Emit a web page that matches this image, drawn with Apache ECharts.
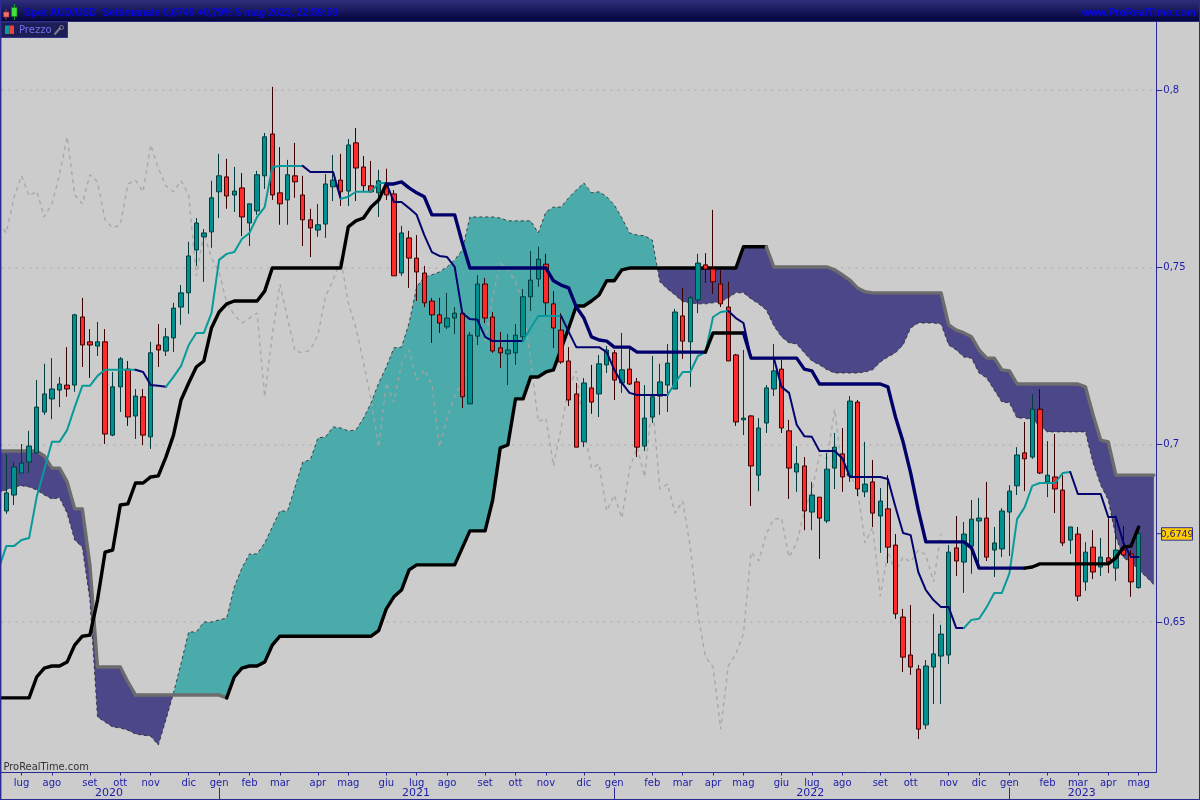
<!DOCTYPE html>
<html><head><meta charset="utf-8">
<style>html,body{margin:0;padding:0;background:#ccc}#c{width:1200px;height:800px}</style>
<script src="https://cdn.jsdelivr.net/npm/echarts@6/dist/echarts.min.js"></script>
</head><body><div id="c"></div><script>
const opens=[.6813,.6858,.6920,.6951,.6977,.7092,.7129,.7154,.7168,.7168,
.7360,.7290,.7278,.7290,.7027,.7163,.7213,.7081,.7135,.7022,
.7281,.7264,.7301,.7388,.7428,.7549,.7586,.7600,.7713,.7755,
.7704,.7724,.7625,.7659,.7758,.7876,.7710,.7690,.7758,.7704,
.7634,.7605,.7622,.7727,.7746,.7715,.7851,.7783,.7730,.7710,
.7730,.7707,.7484,.7583,.7526,.7484,.7405,.7366,.7332,.7357,
.7371,.7115,.7306,.7453,.7360,.7273,.7256,.7259,.7304,.7417,
.7467,.7509,.7397,.7323,.7236,.7143,.7008,.7160,.7143,.7225,
.7259,.7174,.7213,.7177,.6996,.7078,.7137,.7168,.7157,.7363,
.7290,.7408,.7507,.7495,.7453,.7388,.7253,.7070,.7081,.6914,
.7061,.7157,.7213,.7039,.6923,.6940,.6810,.6852,.6785,.6934,
.6974,.6912,.7120,.6867,.6895,.6799,.6819,.6717,.6514,.6407,
.6367,.6210,.6373,.6404,.6407,.6709,.6669,.6714,.6785,.6793,
.6703,.6706,.6810,.6884,.6977,.6965,.7100,.6895,.6909,.6872,
.6731,.6748,.6613,.6711,.6655,.6681,.6652,.6703,.6692,.6597];
const closes=[.6864,.6937,.6948,.6996,.7106,.7143,.7157,.7171,.7157,.7366,
.7281,.7281,.7290,.7030,.7163,.7242,.7078,.7137,.7027,.7259,
.7267,.7304,.7385,.7428,.7532,.7625,.7597,.7696,.7758,.7701,
.7715,.7642,.7679,.7761,.7868,.7704,.7679,.7761,.7741,.7634,
.7611,.7620,.7735,.7746,.7713,.7845,.7780,.7730,.7713,.7744,
.7704,.7476,.7597,.7526,.7487,.7400,.7366,.7343,.7357,.7371,
.7135,.7309,.7453,.7357,.7264,.7259,.7267,.7309,.7417,.7464,
.7523,.7400,.7329,.7233,.7126,.6993,.7174,.7120,.7228,.7267,
.7182,.7211,.7171,.6993,.7075,.7135,.7177,.7230,.7374,.7292,
.7414,.7512,.7495,.7459,.7397,.7236,.7064,.7075,.6940,.7047,
.7160,.7208,.7047,.6934,.6946,.6813,.6858,.6793,.6931,.6993,
.6909,.7123,.6875,.6889,.6807,.6841,.6711,.6523,.6401,.6373,
.6198,.6376,.6410,.6466,.6697,.6672,.6748,.6790,.6793,.6683,
.6723,.6813,.6869,.6971,.6960,.7100,.6920,.6914,.6875,.6723,
.6768,.6573,.6697,.6641,.6683,.6669,.6703,.6689,.6613,.6749];
const highs=[.6974,.6951,.7002,.7039,.7182,.7228,.7244,.7191,.7275,.7369,
.7414,.7326,.7346,.7326,.7205,.7247,.7236,.7157,.7157,.7290,
.7340,.7329,.7400,.7450,.7572,.7639,.7608,.7744,.7820,.7806,
.7783,.7766,.7679,.7772,.7879,.8009,.7839,.7803,.7851,.7758,
.7665,.7679,.7763,.7817,.7820,.7862,.7893,.7814,.7800,.7775,
.7778,.7718,.7617,.7603,.7591,.7504,.7414,.7414,.7428,.7388,
.7371,.7318,.7478,.7470,.7374,.7318,.7312,.7340,.7439,.7546,
.7558,.7538,.7433,.7371,.7275,.7174,.7188,.7225,.7253,.7278,
.7267,.7315,.7270,.7188,.7168,.7250,.7228,.7284,.7383,.7442,
.7419,.7538,.7540,.7662,.7493,.7459,.7256,.7267,.7084,.7075,
.7168,.7284,.7239,.7070,.6996,.6965,.6895,.6852,.6977,.7033,
.7047,.7137,.7126,.7008,.6957,.6878,.6914,.6748,.6537,.6548,
.6379,.6393,.6523,.6492,.6717,.6799,.6782,.6844,.6850,.6895,
.6768,.6821,.6886,.6993,.7064,.7143,.7157,.7010,.7030,.6914,
.6768,.6768,.6725,.6759,.6737,.6793,.6802,.6771,.6703,.6768];
const lows=[.6805,.6830,.6920,.6920,.6974,.7084,.7072,.7106,.7135,.7149,
.7219,.7188,.7250,.7002,.7024,.7092,.7053,.7016,.6999,.6988,
.7219,.7250,.7261,.7338,.7369,.7504,.7459,.7555,.7639,.7665,
.7656,.7588,.7560,.7648,.7721,.7690,.7620,.7620,.7696,.7560,
.7529,.7586,.7583,.7687,.7673,.7673,.7687,.7715,.7710,.7642,
.7690,.7476,.7476,.7442,.7405,.7388,.7287,.7315,.7326,.7312,
.7103,.7115,.7281,.7343,.7259,.7216,.7168,.7225,.7290,.7377,
.7445,.7360,.7273,.7228,.7109,.6993,.6993,.7087,.7078,.7202,
.7126,.7146,.7168,.6965,.6982,.7061,.7084,.7092,.7157,.7242,
.7163,.7371,.7456,.7425,.7388,.7236,.7053,.7027,.6827,.6869,
.7033,.7137,.7033,.6847,.6867,.6759,.6759,.6678,.6779,.6875,
.6867,.6895,.6855,.6852,.6768,.6695,.6666,.6509,.6359,.6351,
.6170,.6198,.6269,.6269,.6382,.6630,.6582,.6636,.6666,.6672,
.6627,.6683,.6686,.6858,.6869,.6960,.6917,.6852,.6807,.6714,
.6692,.6559,.6588,.6621,.6630,.6638,.6616,.6686,.6571,.6594];
const tenkan=[.6714,.6714,.6731,.6737,.6853,.6929,.7008,.7008,.7041,.7106,
.7166,.7166,.7194,.7211,.7211,.7211,.7211,.7211,.7205,.7168,
.7166,.7163,.7191,.7222,.7281,.7315,.7315,.7371,.7521,.7538,
.7543,.7580,.7597,.7642,.7670,.7783,.7786,.7786,.7786,.7786,
.7769,.7769,.7769,.7769,.7693,.7699,.7713,.7713,.7713,.7738,
.7738,.7684,.7684,.7667,.7648,.7591,.7543,.7532,.7529,.7501,
.7371,.7354,.7352,.7304,.7292,.7292,.7292,.7292,.7292,.7329,
.7363,.7363,.7363,.7363,.7318,.7275,.7275,.7275,.7275,.7261,
.7211,.7174,.7146,.7140,.7140,.7140,.7140,.7140,.7174,.7205,
.7205,.7250,.7261,.7360,.7374,.7377,.7357,.7343,.7244,.7244,
.7244,.7244,.7163,.7146,.7056,.7024,.7022,.6982,.6982,.6982,
.6962,.6909,.6909,.6909,.6909,.6909,.6903,.6824,.6751,.6745,
.6641,.6590,.6562,.6542,.6542,.6483,.6483,.6506,.6509,.6542,
.6582,.6582,.6638,.6790,.6824,.6884,.6892,.6892,.6892,.6920,
.6923,.6861,.6861,.6861,.6861,.6796,.6796,.6723,.6683,.6683];
const kijun=[.6286,.6286,.6286,.6286,.6345,.6370,.6376,.6376,.6387,.6435,
.6460,.6463,.6562,.6697,.6703,.6830,.6833,.6892,.6892,.6909,
.6912,.6965,.7027,.7126,.7174,.7219,.7236,.7329,.7374,.7397,
.7405,.7405,.7405,.7405,.7433,.7498,.7498,.7498,.7498,.7498,
.7498,.7498,.7498,.7498,.7498,.7614,.7631,.7639,.7670,.7690,
.7735,.7735,.7741,.7724,.7710,.7699,.7648,.7648,.7648,.7648,
.7569,.7498,.7498,.7498,.7498,.7498,.7498,.7498,.7498,.7498,
.7498,.7498,.7462,.7450,.7442,.7388,.7357,.7304,.7295,.7292,
.7275,.7275,.7275,.7261,.7261,.7261,.7261,.7261,.7261,.7261,
.7261,.7261,.7261,.7315,.7315,.7315,.7315,.7315,.7244,.7244,
.7244,.7244,.7244,.7244,.7244,.7213,.7208,.7171,.7171,.7171,
.7171,.7171,.7171,.7171,.7171,.7171,.7163,.7078,.7008,.6920,
.6816,.6726,.6726,.6726,.6726,.6726,.6726,.6709,.6652,.6652,
.6652,.6652,.6652,.6652,.6652,.6655,.6664,.6664,.6664,.6664,
.6664,.6664,.6664,.6664,.6664,.6664,.6681,.6711,.6714,.6768];
const spanA=[.6872,.6881,.6884,.6881,.6872,.6858,.6847,.6850,.6807,.6731,
.6711,.6562,.6232,.6218,.6204,.6201,.6195,.6184,.6181,.6178,
.6153,.6224,.6300,.6384,.6472,.6472,.6500,.6500,.6506,.6511,
.6599,.6652,.6692,.6692,.6723,.6768,.6813,.6813,.6881,.6951,
.6957,.7019,.7022,.7050,.7047,.7039,.7041,.7075,.7118,.7174,
.7219,.7273,.7275,.7343,.7445,.7473,.7479,.7487,.7501,.7521,
.7549,.7642,.7642,.7642,.7642,.7639,.7631,.7631,.7631,.7631,
.7597,.7656,.7670,.7670,.7696,.7718,.7738,.7710,.7713,.7699,
.7676,.7639,.7597,.7591,.7589,.7577,.7459,.7439,.7422,.7403,
.7400,.7397,.7397,.7400,.7403,.7414,.7428,.7428,.7411,.7397,
.7380,.7335,.7304,.7287,.7284,.7259,.7236,.7225,.7211,.7202,
.7202,.7202,.7202,.7205,.7211,.7233,.7247,.7259,.7281,.7329,
.7343,.7343,.7343,.7340,.7281,.7267,.7247,.7244,.7202,.7188,
.7154,.7120,.7118,.7075,.7075,.7070,.7053,.7036,.7036,.7036,
.7036,.7036,.7036,.6948,.6886,.6844,.6740,.6681,.6669,.6647,
.6627,.6605];
const spanB=[.6982,.6982,.6982,.6982,.6982,.6968,.6934,.6934,.6895,.6819,
.6819,.6661,.6373,.6373,.6373,.6373,.6331,.6294,.6294,.6294,
.6294,.6294,.6294,.6294,.6294,.6294,.6294,.6294,.6294,.6286,
.6345,.6370,.6376,.6376,.6387,.6435,.6460,.6460,.6460,.6460,
.6460,.6460,.6460,.6460,.6460,.6460,.6460,.6460,.6460,.6476,
.6537,.6571,.6590,.6647,.6661,.6661,.6661,.6661,.6661,.6661,
.6709,.6757,.6757,.6757,.6844,.6991,.6999,.7129,.7129,.7191,
.7191,.7205,.7211,.7270,.7329,.7391,.7391,.7405,.7422,.7462,
.7462,.7493,.7498,.7498,.7498,.7498,.7498,.7498,.7498,.7498,
.7498,.7498,.7498,.7498,.7498,.7498,.7498,.7558,.7558,.7558,
.7558,.7501,.7501,.7501,.7501,.7501,.7501,.7501,.7501,.7493,
.7479,.7464,.7442,.7431,.7428,.7428,.7428,.7428,.7428,.7428,
.7428,.7428,.7428,.7428,.7338,.7323,.7315,.7304,.7267,.7244,
.7244,.7211,.7208,.7171,.7171,.7171,.7171,.7171,.7171,.7171,
.7171,.7171,.7163,.7084,.7013,.7008,.6914,.6914,.6914,.6914,
.6914,.6914];
const tenkanBeforeFirst=.6650, kijunBeforeFirst=.6286, spanABeforeFirst=.6865, spanBBeforeFirst=.6982;
const chikouShift=26;
const monthTickIndex=[2,6,11,15,19,24,28,32,36,41,45,50,54,58,63,67,71,76,80,85,89,93,97,102,106,110,115,119,124,128,132,137,141,145,149];
const monthTickLabel=['lug','ago','set','ott','nov','dic','gen','feb','mar','apr','mag','giu','lug','ago','set','ott','nov','dic','gen','feb','mar','apr','mag','giu','lug','ago','set','ott','nov','dic','gen','feb','mar','apr','mag'];
const yearLabelIndex=[13.5,53.9,105.8,141.5];
const yearLabel=['2020','2021','2022','2023'];
const yearBoundaryIndex=[28,80,132];
const priceTicks=[.65,.7,.75,.8];

const TEAL='#089a9a',NAVY='#04046e',NAVY2='#00006a',BLACK='#000000',GREY='#6c6c6c',BLUE='#1c1ca8';
const tenkanRuns=[[0,17,TEAL],[17,21,NAVY],[21,39,TEAL],[39,44,NAVY],[44,50,TEAL],[50,68,NAVY],[68,73,TEAL],[73,87,NAVY],[87,95,TEAL],[95,126,NAVY],[126,140,TEAL],[140,149,NAVY]];
const kijunRuns=[[0,50,BLACK],[50,92,NAVY2],[92,97,BLACK],[97,134,NAVY2],[134,149,BLACK]];
const spanBRuns=[[0,29,GREY],[29,100,BLACK],[100,151,GREY]];

function pts(arr,a,b){const o=[];for(let i=a;i<=b;i++)o.push([i,arr[i]]);return o;}
function lineSeries(arr,runs,width,z,before){return runs.map((r,k)=>{
  const d=pts(arr,r[0],r[1]);
  if(k===0)d.unshift([-1,before]);
  return {type:'line',data:d,symbol:'none',silent:true,z:z,animation:false,
    lineStyle:{color:r[2],width:width,cap:'round',join:'round'}};
});}
// cloud regions: one polygon for every run where spanA stays on one side of spanB
const regions=[];
(function(){
  let cur=null;
  for(let i=0;i<spanA.length;i++){
    const up=spanA[i]>=spanB[i];
    if(!cur){cur={up:up,a:[[-1,spanABeforeFirst],[i,spanA[i]]],b:[[-1,spanBBeforeFirst],[i,spanB[i]]]};continue;}
    if(cur.up!==up){
      const d0=spanA[i-1]-spanB[i-1],d1=spanA[i]-spanB[i],t=d0/(d0-d1);
      const p=[i-1+t,spanA[i-1]+t*(spanA[i]-spanA[i-1])];
      cur.a.push(p);cur.b.push(p);regions.push(cur);
      cur={up:up,a:[p],b:[p]};
    }
    cur.a.push([i,spanA[i]]);cur.b.push([i,spanB[i]]);
  }
  regions.push(cur);
})();
const candles=opens.map((o,i)=>[i,o,closes[i],lows[i],highs[i]]);
const chikou=closes.slice(chikouShift-1).map((v,i)=>[i-1,v]);
const X_MIN=-0.645,X_MAX=151.32;
const fontA='"DejaVu Sans",sans-serif';

const chart=echarts.init(document.getElementById('c'),null,{renderer:'canvas'});
const commonX={type:'value',min:X_MIN,max:X_MAX,gridIndex:0,position:'bottom',splitLine:{show:false}};
const option={
  animation:false,backgroundColor:'#cccccc',tooltip:{show:false},
  grid:{left:1.4,right:43.7,top:22,bottom:27.5,containLabel:false},
  xAxis:[
    Object.assign({},commonX,{axisLine:{onZero:false,lineStyle:{color:'#2a2a96',width:1}},
      axisTick:{customValues:monthTickIndex,length:3,inside:false,lineStyle:{color:'#2a2a96'}},
      axisLabel:{customValues:monthTickIndex,margin:6,fontFamily:fontA,fontSize:10,color:BLUE,
        formatter:v=>monthTickLabel[monthTickIndex.indexOf(v)]||''}}),
    Object.assign({},commonX,{offset:13,axisLine:{show:false,onZero:false},axisTick:{show:false},
      axisLabel:{customValues:yearLabelIndex,margin:2,fontFamily:fontA,fontSize:11,color:BLUE,
        formatter:v=>yearLabel[yearLabelIndex.indexOf(v)]||''}}),
    Object.assign({},commonX,{offset:15,axisLine:{show:false,onZero:false},axisLabel:{show:false},
      axisTick:{customValues:yearBoundaryIndex,length:12,lineStyle:{color:'#2a2a96'}}})
  ],
  yAxis:{type:'value',position:'right',min:0.60757,max:0.81917,scale:true,splitLine:{show:false},
    axisLine:{show:true,onZero:false,lineStyle:{color:'#2a2a96',width:1}},
    axisTick:{customValues:priceTicks,length:6,lineStyle:{color:'#2a2a96'}},
    axisLabel:{customValues:priceTicks,margin:7,fontFamily:fontA,fontSize:10,color:BLUE,
      formatter:v=>String(+v.toFixed(2)).replace('.',',')}},
  series:[
    {type:'line',data:[],silent:true,z:1,symbol:'none',
      markLine:{silent:true,z:1,symbol:'none',label:{show:false},animation:false,
        lineStyle:{color:'#bababa',type:[2,5],width:2},data:priceTicks.map(v=>({yAxis:v}))}},
    {type:'custom',silent:true,z:2,clip:true,coordinateSystem:'cartesian2d',
      data:regions.map((r,k)=>[k,0.7]),encode:{x:0,y:1},
      renderItem:function(params,api){
        const r=regions[params.dataIndex];
        const points=r.a.concat(r.b.slice().reverse()).map(p=>api.coord(p));
        return {type:'polygon',shape:{points:points},
          style:{fill:r.up?'rgba(61,167,167,0.9)':'rgba(62,57,130,0.9)',stroke:null}};
      }},
    {type:'line',data:chikou,symbol:'none',silent:true,z:3,
      lineStyle:{color:'#a4a4a4',width:1.4,type:[4,4],opacity:.9}},
    {type:'line',data:[[-1,spanABeforeFirst]].concat(pts(spanA,0,spanA.length-1)),symbol:'none',silent:true,z:3,
      lineStyle:{color:'#222222',width:1,type:[3,3],opacity:.8}},
    {type:'candlestick',data:candles,silent:true,z:5,barWidth:5,
      encode:{x:0,y:[1,2,3,4]},
      itemStyle:{color:'#009090',color0:'#ff2a2a',borderColor:'#003c3c',borderColor0:'#3c0000',borderWidth:1}}
  ].concat(lineSeries(spanB,spanBRuns,3.4,4,spanBBeforeFirst),
           lineSeries(tenkan,tenkanRuns,2,6,tenkanBeforeFirst),
           lineSeries(kijun,kijunRuns,3.4,7,kijunBeforeFirst)),
  graphic:[]
};
chart.setOption(option);

const lastVal=closes[closes.length-1];
const py=chart.convertToPixel({yAxisIndex:0},lastVal);
chart.setOption({graphic:{elements:[
  {type:'rect',z:100,shape:{x:0,y:0,width:1200,height:21},style:{fill:new echarts.graphic.LinearGradient(0,0,0,1,[{offset:0,color:'#2e2e7c'},{offset:1,color:'#04043c'}])}},
  {type:'rect',z:100,shape:{x:0,y:21,width:1200,height:1},style:{fill:'#2a2a80'}},
  {type:'rect',z:100,shape:{x:0,y:0,width:1.4,height:800},style:{fill:'#2a2a96'}},
  {type:'rect',z:100,shape:{x:1199,y:0,width:1,height:800},style:{fill:'#2a2a96'}},
  {type:'rect',z:100,shape:{x:0,y:799,width:1200,height:1},style:{fill:'#2a2a96'}},
  {type:'rect',z:101,shape:{x:5.5,y:9,width:1,height:11},style:{fill:'#b03030'}},
  {type:'rect',z:102,shape:{x:3.5,y:12,width:5.5,height:5},style:{fill:'#f07070',stroke:'#a03030',lineWidth:.6}},
  {type:'rect',z:101,shape:{x:14,y:4,width:1,height:16},style:{fill:'#20a020'}},
  {type:'rect',z:102,shape:{x:11.5,y:7.5,width:5.5,height:9},style:{fill:'#40e040',stroke:'#108010',lineWidth:.6}},
  {type:'text',z:101,style:{x:24,y:13,text:'Spot AUD/USD  Settimanale 0,6749 +0,79% 5 mag 2023, 22:59:59',fill:'#0808e0',font:'bold 10.3px "Liberation Sans",sans-serif',textVerticalAlign:'middle'}},
  {type:'text',z:101,style:{x:1196,y:13,text:'www.ProRealTime.com',fill:'#0808e0',font:'bold 10.4px "Liberation Sans",sans-serif',textAlign:'right',textVerticalAlign:'middle'}},
  {type:'rect',z:100,shape:{x:1,y:22,width:66.5,height:15.5},style:{fill:'#1e1e56',stroke:'#33338c',lineWidth:1}},
  {type:'rect',z:101,shape:{x:5,y:25.5,width:4.5,height:8.5},style:{fill:'#0d9a9a'}},
  {type:'rect',z:101,shape:{x:9.5,y:25.5,width:4.5,height:8.5},style:{fill:'#f04040'}},
  {type:'text',z:101,style:{x:19,y:30,text:'Prezzo',fill:'#7070ee',font:'10px "DejaVu Sans",sans-serif',textVerticalAlign:'middle'}},
  {type:'line',z:101,shape:{x1:54.5,y1:34.5,x2:60.5,y2:27.5},style:{stroke:'#7d7d8d',lineWidth:2}},
  {type:'circle',z:101,shape:{cx:61.5,cy:27.5,r:2},style:{fill:'none',stroke:'#7d7d8d',lineWidth:1}},
  {type:'text',z:101,style:{x:3.5,y:767,text:'ProRealTime.com',fill:'#333333',font:'9.9px "DejaVu Sans",sans-serif',textVerticalAlign:'middle'}},
  {type:'line',z:101,shape:{x1:1156.5,y1:py,x2:1162,y2:py},style:{stroke:'#2a2a96',lineWidth:1}},
  {type:'rect',z:101,shape:{x:1161.5,y:py-6,width:31,height:12.5},style:{fill:'#ffcc00',stroke:'#3333a0',lineWidth:1}},
  {type:'text',z:102,style:{x:1177,y:py+.5,text:lastVal.toFixed(4).replace('.',','),fill:'#1a1a80',font:'9.5px "DejaVu Sans",sans-serif',textAlign:'center',textVerticalAlign:'middle'}}
]}});
</script></body></html>
